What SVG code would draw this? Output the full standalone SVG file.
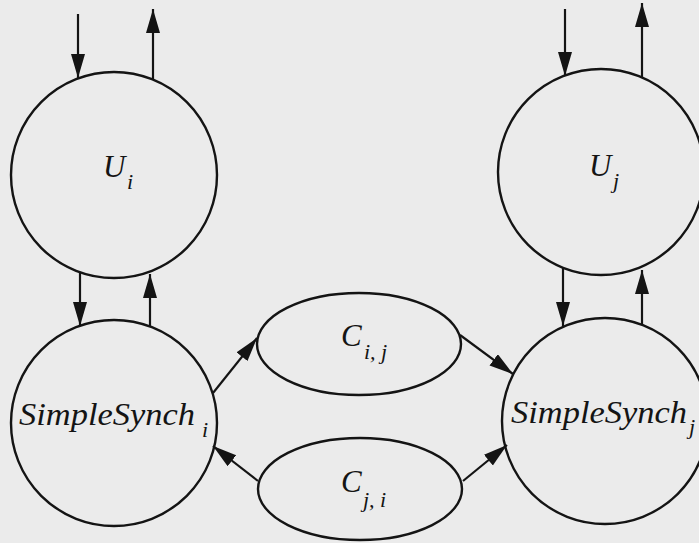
<svg xmlns="http://www.w3.org/2000/svg" width="699" height="543" viewBox="0 0 699 543">
<style>
.n{fill:none;stroke:#141414;stroke-width:2.4}
.c{stroke:#141414;stroke-width:2.2;fill:none;marker-end:url(#ah)}
.t{font-family:"Liberation Serif","Times New Roman",serif;font-style:italic;fill:#141414}
.b{font-size:31px}
.sub{font-size:22px}
</style>
<defs>
<marker id="ah" markerUnits="userSpaceOnUse" markerWidth="26" markerHeight="16" refX="24" refY="7" orient="auto">
<path d="M0,0 L24,7 L0,14 z" fill="#141414"/>
</marker>
</defs>
<rect width="699" height="543" fill="#ebebeb"/>
<g id="Ui"><circle class="n" cx="114" cy="175" r="103"/><text class="t b" x="103" y="177">U<tspan class="sub" x="127" y="189">i</tspan></text></g>
<g id="Uj"><circle class="n" cx="601" cy="172" r="103"/><text class="t b" x="589" y="176">U<tspan class="sub" x="613" y="188">j</tspan></text></g>
<g id="SSi"><circle class="n" cx="114" cy="423" r="103"/><text class="t" x="19" y="425" font-size="32"><tspan textLength="176" lengthAdjust="spacingAndGlyphs">SimpleSynch</tspan><tspan class="sub" x="202" y="437">i</tspan></text></g>
<g id="SSj"><circle class="n" cx="605" cy="421" r="103"/><text class="t" x="511" y="423" font-size="32"><tspan textLength="176" lengthAdjust="spacingAndGlyphs">SimpleSynch</tspan><tspan class="sub" x="689" y="434">j</tspan></text></g>
<g id="Cij"><ellipse class="n" cx="359" cy="344" rx="102" ry="51"/><text class="t b" x="341" y="346">C<tspan class="sub" x="364" y="359" font-size="24px">i, j</tspan></text></g>
<g id="Cji"><ellipse class="n" cx="360" cy="489" rx="102" ry="51"/><text class="t b" x="341" y="492">C<tspan class="sub" x="363" y="507" font-size="24px">j, i</tspan></text></g>
<g id="connectors">
<line class="c" x1="78" y1="14" x2="78" y2="78"/>
<line class="c" x1="153" y1="80" x2="153" y2="9"/>
<line class="c" x1="80" y1="272" x2="80" y2="326"/>
<line class="c" x1="150" y1="326" x2="150" y2="274"/>
<line class="c" x1="565" y1="9" x2="565" y2="76"/>
<line class="c" x1="642" y1="77" x2="642" y2="3"/>
<line class="c" x1="563" y1="268" x2="563" y2="326"/>
<line class="c" x1="642" y1="325" x2="642" y2="270"/>
<line class="c" x1="213" y1="393" x2="257" y2="338"/>
<line class="c" x1="258" y1="481" x2="213" y2="446"/>
<line class="c" x1="460" y1="335" x2="513" y2="374"/>
<line class="c" x1="463" y1="481" x2="507" y2="445"/>
</g>
</svg>
